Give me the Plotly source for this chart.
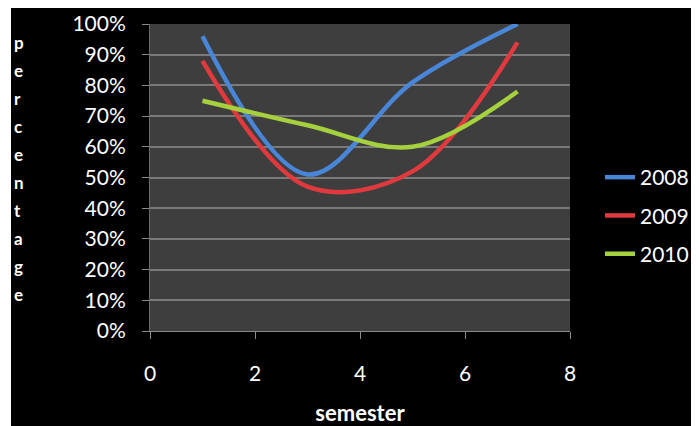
import plotly.graph_objects as go

semesters = [1, 3, 5, 7]
series_names = ["2008", "2009", "2010"]
values_2008 = [0.96, 0.51, 0.81, 1.00]
values_2009 = [0.88, 0.47, 0.52, 0.94]
values_2010 = [0.75, 0.67, 0.60, 0.78]
colors = ["#4A86D8", "#E0393E", "#A6D13E"]
y_ticks = [0, 0.1, 0.2, 0.3, 0.4, 0.5, 0.6, 0.7, 0.8, 0.9, 1.0]
x_ticks = [0, 2, 4, 6, 8]
y_title = "percentage"
x_title = "semester"

# the page body adds an 8px margin, so the figure is drawn 8px in from the window corner
OFF = 8
W, H = 699 - OFF, 426 - OFF
L, R, T, B = 150 - OFF, 129, 24 - OFF, 95
PW, PH = W - L - R, H - T - B

def px_x(p):  # screen pixel -> paper x
    return (p - OFF - L) / PW

def px_y(p):  # screen pixel -> paper y
    return (H - B - (p - OFF)) / PH

fig = go.Figure()
for name, vals, col in zip(series_names, [values_2008, values_2009, values_2010], colors):
    fig.add_trace(go.Scatter(
        x=semesters, y=vals, name=name, mode="lines",
        line=dict(color=col, width=4.5, shape="spline", smoothing=1),
        legendgroup=name,
    ))

font_family = "Lato"
fig.update_layout(
    width=W, height=H,
    margin=dict(l=L, r=R, t=T, b=B, autoexpand=False),
    paper_bgcolor="black",
    plot_bgcolor="#3e3e3e",
    showlegend=True,
    legend=dict(
        x=px_x(600), y=px_y(157), xanchor="left", yanchor="top",
        font=dict(family=font_family, size=21, color="white"),
        bgcolor="rgba(0,0,0,0)",
        itemwidth=30,
        tracegroupgap=8,
    ),
    xaxis=dict(
        range=[0, 8], tickvals=x_ticks, showgrid=False, zeroline=False,
        showline=True, linecolor="#8a8a8a", linewidth=1,
        ticks="outside", ticklen=7, tickcolor="#8a8a8a",
        tickfont=dict(family=font_family, size=21, color="white"),
        ticklabelstandoff=17, automargin=False,
        title=dict(text="<b>" + x_title + "</b>", font=dict(family=font_family, size=22, color="white"), standoff=21),
    ),
    yaxis=dict(
        range=[0, 1], tickvals=y_ticks, tickformat=".0%",
        showgrid=True, gridcolor="#7a7a7a", gridwidth=1.6, zeroline=False,
        showline=True, linecolor="#6a6a6a", linewidth=1,
        ticks="outside", ticklen=7, tickcolor="#8a8a8a",
        tickfont=dict(family=font_family, size=21, color="white"),
        ticklabelstandoff=12, automargin=False,
    ),
)

# vertical stacked y-axis title letters
for i, ch in enumerate(y_title):
    fig.add_annotation(
        text="<b>" + ch + "</b>", xref="paper", yref="paper",
        x=px_x(12), y=px_y(42 + i * 28.1), xanchor="left", yanchor="middle",
        showarrow=False, font=dict(family=font_family, size=17, color="white"),
    )

# white border strips of the original image
for x0, x1, y0, y1 in [(-1, px_x(11), -1, 2), (px_x(692), 2, -1, 2)]:
    fig.add_shape(type="rect", xref="paper", yref="paper", x0=x0, x1=x1, y0=y0, y1=y1,
                  fillcolor="white", line=dict(width=0), layer="above")

fig.write_html("out.html")
